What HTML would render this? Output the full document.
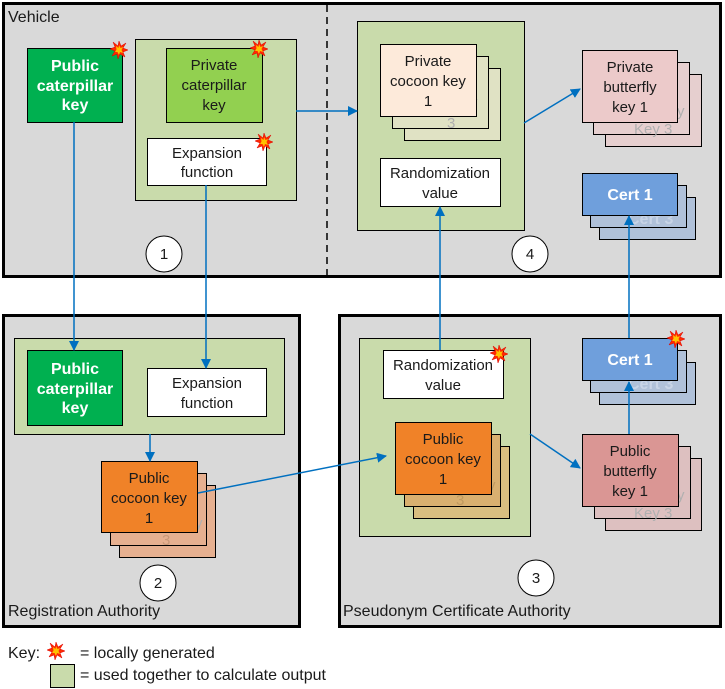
<!DOCTYPE html>
<html><head><meta charset="utf-8"><style>
html,body{margin:0;padding:0;background:#fff}
svg{display:block}
text{font-family:"Liberation Sans",Arial,sans-serif;font-size:15px;fill:#1a1a1a}
.w{fill:#fff;font-weight:bold;font-size:16px}
.f{fill:#b0b0b0}
.lb{font-size:16px}
</style></head><body>
<svg width="725" height="689" viewBox="0 0 725 689" xmlns="http://www.w3.org/2000/svg">
<defs>
<marker id="a" markerWidth="10" markerHeight="10" refX="9" refY="5" orient="auto" markerUnits="userSpaceOnUse"><path d="M0,0 L10,5 L0,10 z" fill="#0070c0"/></marker>
<g id="st"><polygon points="0,-9 2,-4 7,-7 4,-2 9,0 4,2 6,7 1,4 -1,9 -2,4 -7,6 -4,1 -9,-1 -4,-3 -6,-8 -1,-4" fill="#ff2a00" stroke="#d00" stroke-width="0.5"/><polygon points="0,-5 1.5,-2 4,-3 2.5,0 4,3 1,2 0,5 -1.5,2 -4,2 -2.5,-0.5 -3,-4 -0.5,-2" fill="#ffc000"/></g>
</defs>
<!-- outer boxes -->
<rect x="3.5" y="3.5" width="717" height="273" fill="#d9d9d9" stroke="#000" stroke-width="3"/>
<line x1="327" y1="5" x2="327" y2="275" stroke="#000" stroke-width="1.5" stroke-dasharray="7,5"/>
<rect x="3.5" y="315.5" width="296" height="311" fill="#d9d9d9" stroke="#000" stroke-width="3"/>
<rect x="339.5" y="315.5" width="381" height="311" fill="#d9d9d9" stroke="#000" stroke-width="3"/>
<text class="lb" x="8" y="22">Vehicle</text>
<text class="lb" x="8" y="616">Registration Authority</text>
<text class="lb" x="343" y="616">Pseudonym Certificate Authority</text>

<!-- Vehicle -->
<rect x="27.5" y="48.5" width="95" height="74" fill="#00b050" stroke="#000"/>
<text class="w" x="75" y="71" text-anchor="middle">Public</text>
<text class="w" x="75" y="91" text-anchor="middle">caterpillar</text>
<text class="w" x="75" y="110" text-anchor="middle">key</text>
<use href="#st" x="119" y="50"/>
<rect x="135.5" y="39.5" width="161" height="161" fill="#c9dbab" stroke="#000"/>
<rect x="166.5" y="48.5" width="96" height="74" fill="#92d050" stroke="#000"/>
<text x="214" y="70" text-anchor="middle">Private</text>
<text x="214" y="90" text-anchor="middle">caterpillar</text>
<text x="214" y="110" text-anchor="middle">key</text>
<use href="#st" x="259" y="49"/>
<rect x="147.5" y="138.5" width="119" height="47" fill="#fff" stroke="#000"/>
<text x="207" y="158" text-anchor="middle">Expansion</text>
<text x="207" y="177" text-anchor="middle">function</text>
<use href="#st" x="264" y="142"/>
<circle cx="164" cy="254" r="18" fill="#fff" stroke="#000"/>
<text x="164" y="259" text-anchor="middle">1</text>

<rect x="357.5" y="21.5" width="167" height="209" fill="#c9dbab" stroke="#000"/>
<rect x="404.5" y="68.5" width="96" height="72" fill="#e0e2c4" stroke="#000"/>
<rect x="392.5" y="56.5" width="96" height="72" fill="#e0e2c4" stroke="#000"/>
<text class="f" x="470" y="107">y</text><text class="f" x="460" y="112">ey</text><text class="f" x="447" y="128">3</text>
<rect x="380.5" y="44.5" width="96" height="72" fill="#fdeada" stroke="#000"/>
<text x="428" y="66" text-anchor="middle">Private</text>
<text x="428" y="86" text-anchor="middle">cocoon key</text>
<text x="428" y="106" text-anchor="middle">1</text>
<rect x="380.5" y="158.5" width="120" height="48" fill="#fff" stroke="#000"/>
<text x="440" y="178" text-anchor="middle">Randomization</text>
<text x="440" y="198" text-anchor="middle">value</text>
<circle cx="530" cy="254" r="18" fill="#fff" stroke="#000"/>
<text x="530" y="259" text-anchor="middle">4</text>

<rect x="605.5" y="74.5" width="96" height="72" fill="#e6cfcf" stroke="#000"/>
<rect x="593.5" y="62.5" width="96" height="72" fill="#e6cfcf" stroke="#000"/>
<text class="f" x="677" y="116">y</text><text class="f" x="634" y="134">Key 3</text>
<rect x="582.5" y="50.5" width="95" height="72" fill="#eccaca" stroke="#000"/>
<text x="630" y="72" text-anchor="middle">Private</text>
<text x="630" y="92" text-anchor="middle">butterfly</text>
<text x="630" y="112" text-anchor="middle">key 1</text>

<rect x="599.5" y="197.5" width="96" height="42" fill="#b0c1d9" stroke="#000"/>
<rect x="590.5" y="185.5" width="96" height="42" fill="#b0c1d9" stroke="#000"/>
<text class="w" x="628" y="224" style="fill:#c8d4e6">Cert 3</text>
<rect x="582.5" y="173.5" width="95" height="42" fill="#6f9fdc" stroke="#000"/>
<text class="w" x="630" y="200" text-anchor="middle">Cert 1</text>

<!-- RA -->
<rect x="14.5" y="338.5" width="270" height="96" fill="#c9dbab" stroke="#000"/>
<rect x="27.5" y="350.5" width="95" height="75" fill="#00b050" stroke="#000"/>
<text class="w" x="75" y="374" text-anchor="middle">Public</text>
<text class="w" x="75" y="394" text-anchor="middle">caterpillar</text>
<text class="w" x="75" y="413" text-anchor="middle">key</text>
<rect x="147.5" y="368.5" width="119" height="48" fill="#fff" stroke="#000"/>
<text x="207" y="388" text-anchor="middle">Expansion</text>
<text x="207" y="408" text-anchor="middle">function</text>
<rect x="119.5" y="485.5" width="96" height="72" fill="#e6b090" stroke="#000"/>
<rect x="110.5" y="473.5" width="96" height="72" fill="#e6b090" stroke="#000"/>
<text class="f" x="195" y="528">y</text><text class="f" x="162" y="545" style="fill:#c89878">3</text>
<rect x="101.5" y="461.5" width="96" height="71" fill="#f08228" stroke="#000"/>
<text x="149" y="483" text-anchor="middle">Public</text>
<text x="149" y="503" text-anchor="middle">cocoon key</text>
<text x="149" y="523" text-anchor="middle">1</text>
<circle cx="158" cy="583" r="18" fill="#fff" stroke="#000"/>
<text x="158" y="588" text-anchor="middle">2</text>

<!-- PCA -->
<rect x="359.5" y="338.5" width="171" height="198" fill="#c9dbab" stroke="#000"/>
<rect x="383.5" y="350.5" width="120" height="48" fill="#fff" stroke="#000"/>
<text x="443" y="370" text-anchor="middle">Randomization</text>
<text x="443" y="390" text-anchor="middle">value</text>
<use href="#st" x="499" y="354"/>
<rect x="413.5" y="446.5" width="96" height="72" fill="#d9be80" stroke="#000"/>
<rect x="404.5" y="434.5" width="96" height="72" fill="#d9b070" stroke="#000"/>
<text class="f" x="488" y="490" style="fill:#c09a60">y</text><text class="f" x="456" y="505" style="fill:#c09a60">3</text>
<rect x="395.5" y="422.5" width="96" height="72" fill="#f08228" stroke="#000"/>
<text x="443" y="444" text-anchor="middle">Public</text>
<text x="443" y="464" text-anchor="middle">cocoon key</text>
<text x="443" y="484" text-anchor="middle">1</text>
<circle cx="536" cy="578" r="18" fill="#fff" stroke="#000"/>
<text x="536" y="583" text-anchor="middle">3</text>

<rect x="605.5" y="458.5" width="96" height="72" fill="#ddc0c0" stroke="#000"/>
<rect x="594.5" y="446.5" width="96" height="72" fill="#ddc0c0" stroke="#000"/>
<text class="f" x="677" y="500">y</text><text class="f" x="634" y="518">Key 3</text>
<rect x="582.5" y="434.5" width="96" height="72" fill="#da9694" stroke="#000"/>
<text x="630" y="456" text-anchor="middle">Public</text>
<text x="630" y="476" text-anchor="middle">butterfly</text>
<text x="630" y="496" text-anchor="middle">key 1</text>

<rect x="599.5" y="362.5" width="96" height="42" fill="#b0c1d9" stroke="#000"/>
<rect x="590.5" y="350.5" width="96" height="42" fill="#b0c1d9" stroke="#000"/>
<text class="w" x="628" y="389" style="fill:#c8d4e6">Cert 3</text>
<rect x="582.5" y="338.5" width="95" height="42" fill="#6f9fdc" stroke="#000"/>
<text class="w" x="630" y="365" text-anchor="middle">Cert 1</text>
<use href="#st" x="676" y="339"/>

<!-- connectors (on top) -->
<g stroke="#0070c0" stroke-width="1.5" marker-end="url(#a)">
<line x1="296" y1="111" x2="357" y2="111"/>
<line x1="524" y1="123" x2="580" y2="89"/>
<line x1="74" y1="122" x2="74" y2="350"/>
<line x1="206" y1="185" x2="206" y2="368"/>
<line x1="440" y1="350" x2="440" y2="207"/>
<line x1="629" y1="338" x2="629" y2="216"/>
<line x1="150" y1="434" x2="150" y2="461"/>
<line x1="198" y1="493" x2="386" y2="456"/>
<line x1="530" y1="434" x2="580" y2="468"/>
<line x1="629" y1="434" x2="629" y2="382"/>
</g>

<!-- key -->
<text class="lb" x="8" y="658">Key:</text>
<use href="#st" x="56" y="651"/>
<text class="lb" x="80" y="658">= locally generated</text>
<rect x="50.5" y="664.5" width="24" height="23" fill="#c9dbab" stroke="#000"/>
<text class="lb" x="80" y="680">= used together to calculate output</text>
</svg>
</body></html>
